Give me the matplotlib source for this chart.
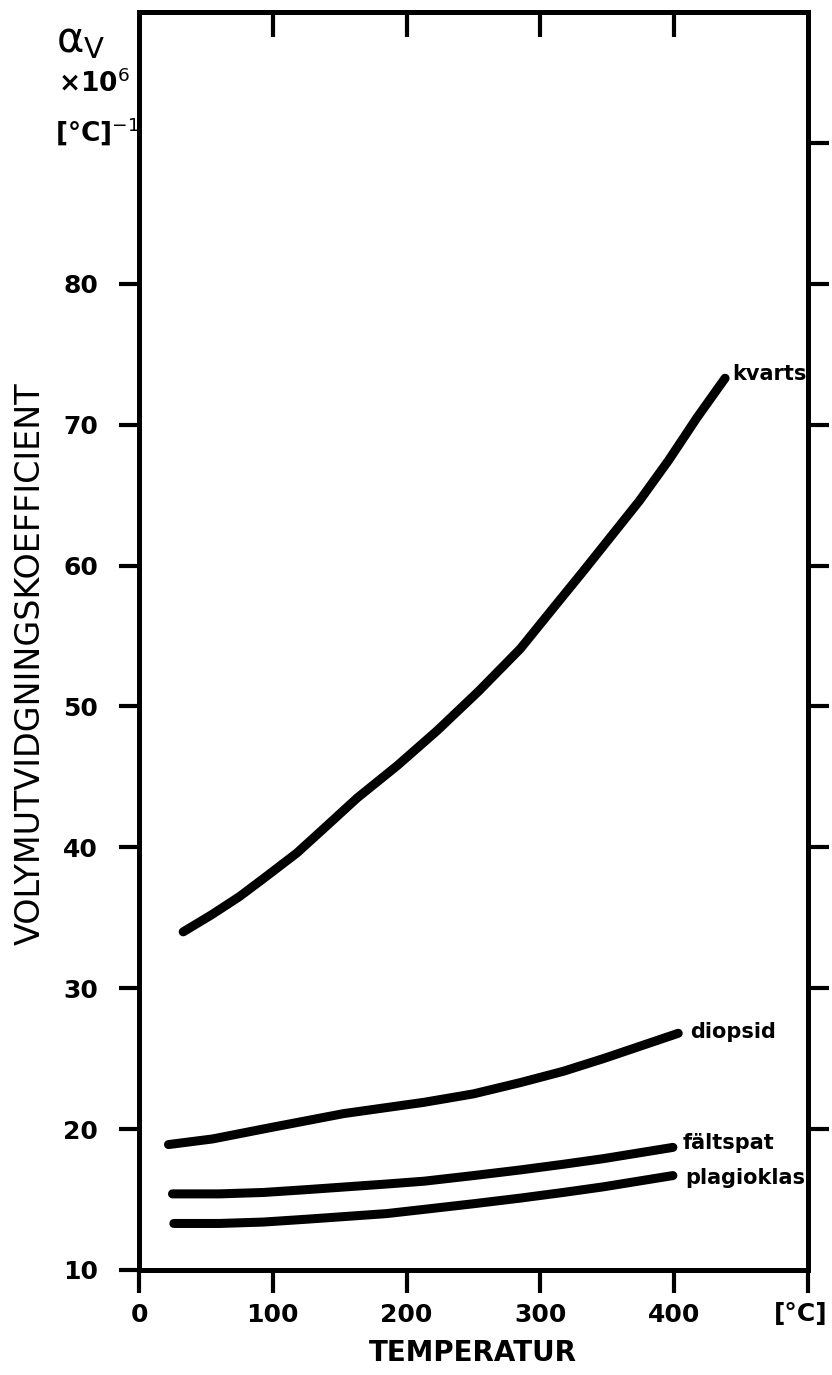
import numpy as np
import matplotlib.pyplot as plt

# data (temperature in °C, alpha_V x 10^6 per °C)
temp_kvarts = [33, 54, 75, 96, 118, 140, 163, 193, 223, 254, 285, 308, 332, 353, 374, 396, 417, 438]
kvarts = [34.0, 35.2, 36.5, 38.0, 39.6, 41.5, 43.5, 45.8, 48.3, 51.1, 54.1, 56.8, 59.6, 62.1,
          64.6, 67.5, 70.5, 73.3]

temp_diopsid = [22, 55, 98, 153, 213, 250, 285, 317, 347, 375, 403]
diopsid = [18.9, 19.3, 20.1, 21.1, 21.9, 22.5, 23.3, 24.1, 25.0, 25.9, 26.8]

temp_faltspat = [25, 60, 93, 125, 155, 185, 213, 250, 285, 317, 347, 373, 399]
faltspat = [15.4, 15.4, 15.5, 15.7, 15.9, 16.1, 16.3, 16.7, 17.1, 17.5, 17.9, 18.3, 18.7]

temp_plagioklas = [26, 60, 93, 125, 155, 185, 213, 250, 285, 317, 347, 373, 399]
plagioklas = [13.3, 13.3, 13.4, 13.6, 13.8, 14.0, 14.3, 14.7, 15.1, 15.5, 15.9, 16.3, 16.7]

curve_names = ['kvarts', 'diopsid', 'fältspat', 'plagioklas']
label_pos = [(443, 73.6), (412, 26.9), (406, 19.0), (408, 16.5)]

x_ticks = [0, 100, 200, 300, 400, 500]
x_ticklabels = ['0', '100', '200', '300', '400', '']
y_ticks = [10, 20, 30, 40, 50, 60, 70, 80]
top_ticks = [100, 200, 300, 400]
right_ticks = [20, 30, 40, 50, 60, 70, 80, 90]

plt.rcParams['font.family'] = ['DejaVu Sans']

fig = plt.figure(figsize=(8.32, 13.75), dpi=100)
ax = fig.add_axes([0.1671, 0.0764, 0.8041, 0.9149])

lw = 6.5
for tx, ty in [(temp_kvarts, kvarts), (temp_diopsid, diopsid),
               (temp_faltspat, faltspat), (temp_plagioklas, plagioklas)]:
    ax.plot(tx, ty, color='black', lw=lw, solid_capstyle='round',
            solid_joinstyle='round')

for name, (lx, ly) in zip(curve_names, label_pos):
    ax.text(lx, ly, name, fontsize=15, fontweight='bold', va='center', ha='left')

ax.set_xlim(0, 500)
ax.set_ylim(10, 99.3)
for s in ax.spines.values():
    s.set_linewidth(3.6)

ax.set_xticks(x_ticks)
ax.set_xticklabels(x_ticklabels, fontsize=18, fontweight='bold')
ax.set_yticks(y_ticks)
ax.set_yticklabels([str(v) for v in y_ticks], fontsize=18, fontweight='bold')
ax.tick_params(axis='x', direction='out', length=16.5, width=3, pad=7)
ax.tick_params(axis='y', direction='out', length=14.5, width=3, pad=15)

# extra ticks on top (inward) and right (outward)
axt = ax.twiny()
axt.set_xlim(0, 500)
axt.set_xticks(top_ticks)
axt.tick_params(axis='x', direction='in', length=18, width=3, labeltop=False)
axr = ax.twinx()
axr.set_ylim(10, 99.3)
axr.set_yticks(right_ticks)
axr.tick_params(axis='y', direction='out', length=15, width=3, labelright=False)
for a in (axt, axr):
    for s in a.spines.values():
        s.set_linewidth(3.6)

# unit label under the last bottom tick, kept inside the canvas
fig.text(828 / 832, 1 - 1314 / 1375, '[°C]', fontsize=18, fontweight='bold',
         ha='right', va='center')

fig.text(473 / 832, 1 - 1353 / 1375, 'TEMPERATUR', fontsize=20, fontweight='bold',
         ha='center', va='center')
fig.text(30 / 832, 1 - 664 / 1375, 'VOLYMUTVIDGNINGSKOEFFICIENT', fontsize=24,
         rotation=90, ha='center', va='center')

fig.text(56 / 832, 1 - 40 / 1375, r'α$_\mathrm{V}$', fontsize=30, ha='left', va='center')
fig.text(58 / 832, 1 - 84 / 1375, r'×10$^6$', fontsize=19, fontweight='bold',
         ha='left', va='center')
fig.text(55 / 832, 1 - 132 / 1375, r'[°C]$^{-1}$', fontsize=19, fontweight='bold',
         ha='left', va='center')

fig.savefig('out.png', dpi=100, facecolor='white')
